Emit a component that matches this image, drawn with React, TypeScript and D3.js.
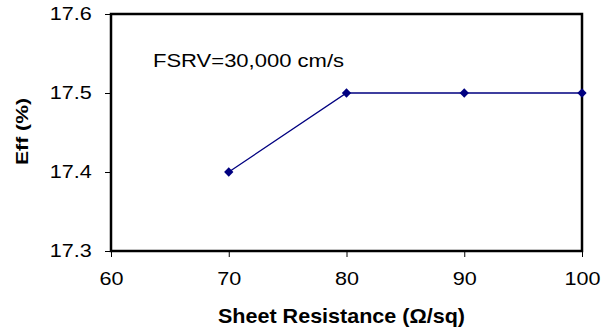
import React, { useEffect, useRef } from 'react';
import * as d3 from 'd3';

const resistance = [70, 80, 90, 100];
const efficiency = [17.4, 17.5, 17.5, 17.5];
const xTicks = [60, 70, 80, 90, 100];
const yTicks = [17.3, 17.4, 17.5, 17.6];

const W = 613;
const H = 331;
const FONT = 'Arial, Liberation Sans, sans-serif';
const STRETCH = 1.2; // reference text is drawn a bit wide

const App = () => {
  const svgRef = useRef<SVGSVGElement>(null);

  useEffect(() => {
    const svg = d3.select(svgRef.current);
    svg.selectAll('*').remove();
    const margin = { top: 14, right: 31, bottom: 80, left: 111 };

    const x = d3.scaleLinear().domain([60, 100]).range([margin.left, W - margin.right]);
    const y = d3.scaleLinear().domain([17.3, 17.6]).range([H - margin.bottom, margin.top]);

    svg.append('rect').attr('width', W).attr('height', H).attr('fill', 'white');

    const xAxis = d3.axisBottom(x).tickValues(xTicks).tickSize(6).tickSizeOuter(0).tickPadding(15);
    const gx = svg.append('g')
      .attr('transform', `translate(0, ${H - margin.bottom})`)
      .call(xAxis);
    gx.select('.domain').remove();
    gx.selectAll('line').attr('stroke', '#000');
    gx.selectAll('text')
      .attr('font-size', 18).attr('font-family', FONT).attr('fill', '#000')
      .attr('transform', `scale(${STRETCH},1)`);

    const yAxis = d3.axisLeft(y).tickValues(yTicks).tickFormat(d3.format('.1f')).tickSize(6).tickSizeOuter(0).tickPadding(10);
    const gy = svg.append('g')
      .attr('transform', `translate(${margin.left}, 0)`)
      .call(yAxis);
    gy.select('.domain').remove();
    gy.selectAll('line').attr('stroke', '#000');
    gy.selectAll('text')
      .attr('font-size', 18).attr('font-family', FONT).attr('fill', '#000')
      .attr('transform', `scale(${STRETCH},1)`)
      .attr('dy', '0.28em');

    // plot frame
    svg.append('rect')
      .attr('x', x(60))
      .attr('y', y(17.6))
      .attr('width', x(100) - x(60))
      .attr('height', y(17.3) - y(17.6))
      .attr('fill', 'none')
      .attr('stroke', 'black')
      .attr('stroke-width', 2.5);

    const pts = resistance.map((r, i) => [r, efficiency[i]] as [number, number]);
    const line = d3.line<[number, number]>().x(d => x(d[0])).y(d => y(d[1]));
    svg.append('path')
      .attr('d', line(pts))
      .attr('fill', 'none')
      .attr('stroke', '#000080')
      .attr('stroke-width', 1.3);

    svg.selectAll('path.pt')
      .data(pts)
      .enter()
      .append('path')
      .attr('class', 'pt')
      .attr('d', d3.symbol().type(d3.symbolDiamond2).size(55)())
      .attr('transform', d => `translate(${x(d[0])}, ${y(d[1])})`)
      .attr('fill', '#000080');

    svg.append('text')
      .attr('x', 153)
      .attr('y', 67)
      .attr('font-size', 18)
      .attr('font-family', FONT)
      .attr('textLength', 191)
      .attr('lengthAdjust', 'spacingAndGlyphs')
      .text('FSRV=30,000 cm/s');

    svg.append('text')
      .attr('x', 218)
      .attr('y', 323)
      .attr('font-size', 21)
      .attr('font-weight', 'bold')
      .attr('font-family', FONT)
      .attr('textLength', 247)
      .attr('lengthAdjust', 'spacingAndGlyphs')
      .text('Sheet Resistance (Ω/sq)');

    svg.append('text')
      .attr('transform', `translate(28, 165) rotate(-90)`)
      .attr('font-size', 17)
      .attr('font-weight', 'bold')
      .attr('font-family', FONT)
      .attr('textLength', 67)
      .attr('lengthAdjust', 'spacingAndGlyphs')
      .text('Eff (%)');
  }, []);

  return (
    <svg ref={svgRef} width={W} height={H} style={{ position: 'absolute', left: 0, top: 0 }}></svg>
  );
};

export default App;
